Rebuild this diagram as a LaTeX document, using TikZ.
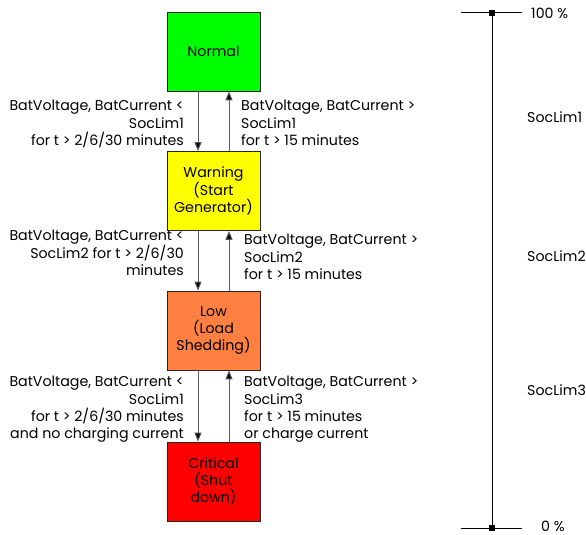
\documentclass[tikz,border=0pt]{standalone}
\usepackage{fontspec}
\setmainfont{Poppins}
\usetikzlibrary{arrows.meta}
\begin{document}
\begin{tikzpicture}[x=1bp,y=-1bp,
  font=\fontsize{14.2bp}{17.3bp}\selectfont,
  state/.style={draw=black!85,line width=0.8bp,minimum width=93bp,minimum height=79bp,inner sep=0pt,align=center,text=black},
  trans/.style={draw=black!65,line width=1bp,-{Triangle[length=9bp,width=7bp,fill=black]}},
  lbl/.style={inner sep=0pt},
  lab/.style={inner sep=0pt,anchor=west}]
\useasboundingbox (0,0) rectangle (586,535);
% states
\node[state,fill={rgb,255:red,0;green,255;blue,0}] (normal) at (213.5,51.5) {Normal};
\node[state,fill={rgb,255:red,255;green,255;blue,0}] (warn) at (213.5,191) {Warning\\(Start\\Generator)};
\node[state,fill={rgb,255:red,255;green,128;blue,64}] (low) at (213.5,330.5) {Low\\(Load\\Shedding)};
\node[state,fill={rgb,255:red,255;green,0;blue,0}] (crit) at (213.5,481.5) {Critical\\(Shut\\down)};
% transitions
\draw[trans] ([xshift=-15.5bp]normal.south) -- ([xshift=-15.5bp]warn.north);
\draw[trans] ([xshift=15.5bp]warn.north) -- ([xshift=15.5bp]normal.south);
\draw[trans] ([xshift=-15.5bp]warn.south) -- ([xshift=-15.5bp]low.north);
\draw[trans] ([xshift=15.5bp]low.north) -- ([xshift=15.5bp]warn.south);
\draw[trans] ([xshift=-15.5bp]low.south) -- ([xshift=-15.5bp]crit.north);
\draw[trans] ([xshift=15.5bp]crit.north) -- ([xshift=15.5bp]low.south);
% labels
\node[lbl,anchor=north east,align=right] (l1) at (184,100) {BatVoltage, BatCurrent <\\SocLim1\\for t > 2/6/30 minutes};
\node[lbl,anchor=north west,align=left] (r1) at (241,100) {BatVoltage, BatCurrent >\\SocLim1\\for t > 15 minutes};
\node[lbl,anchor=north east,align=right] (l2) at (184,230) {BatVoltage, BatCurrent <\\SocLim2 for t > 2/6/30\\minutes};
\node[lbl,anchor=north west,align=left] (r2) at (244,234) {BatVoltage, BatCurrent >\\SocLim2\\for t > 15 minutes};
\node[lbl,anchor=north east,align=right] (l3) at (184,376) {BatVoltage, BatCurrent <\\SocLim1\\for t > 2/6/30 minutes\\and no charging current};
\node[lbl,anchor=north west,align=left] (r3) at (244,376) {BatVoltage, BatCurrent >\\SocLim3\\for t > 15 minutes\\or charge current};
% scale
\coordinate (top) at (492,13);
\coordinate (bot) at (492,528);
\draw[line width=1bp] (top) -- (bot);
\draw[line width=1bp] (461,13) -- (522,13);
\draw[line width=1bp] (461,528) -- (522,528);
\fill (489,10) rectangle (495,16);
\fill (489,525) rectangle (495,531);
\node[lab] (p100) at (531,13) {100 \%};
\node[lab] (p0) at (541,526) {0 \%};
\node[lab] (s1) at (527,117) {SocLim1};
\node[lab] (s2) at (527,256) {SocLim2};
\node[lab] (s3) at (527,390) {SocLim3};
\end{tikzpicture}
\end{document}
